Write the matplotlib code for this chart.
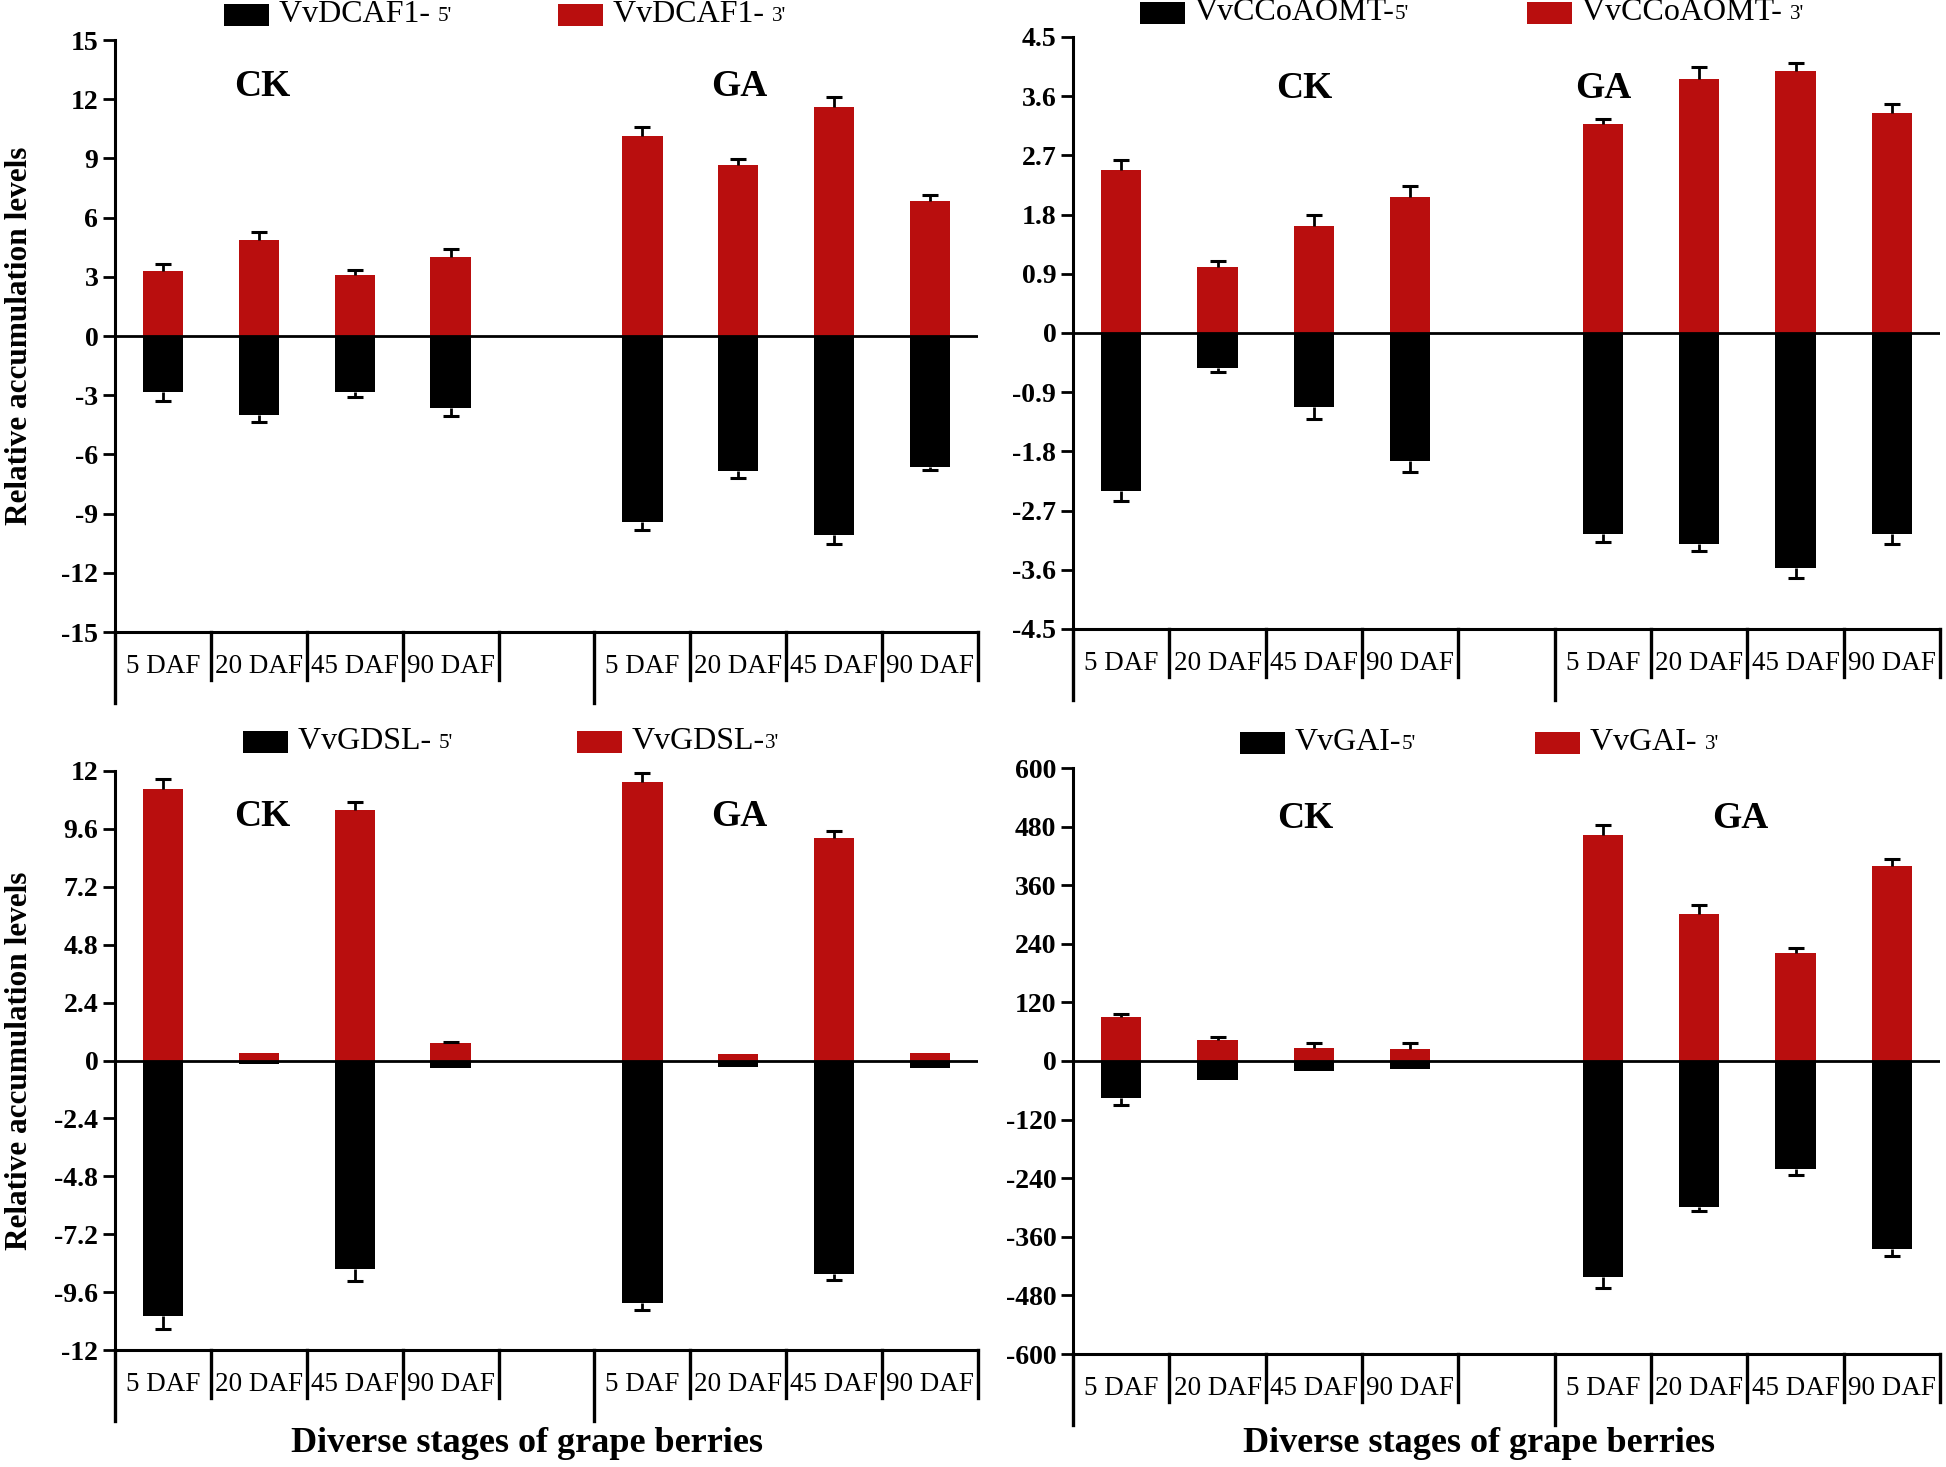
import numpy as np
import matplotlib
matplotlib.use('Agg')
import matplotlib.pyplot as plt
from matplotlib.patches import Rectangle
from matplotlib.transforms import blended_transform_factory

plt.rcParams['font.family'] = ['Liberation Serif', 'DejaVu Serif']

W, H = 1946, 1467
RED = '#b90e0e'

stages = ['5 DAF', '20 DAF', '45 DAF', '90 DAF']
groups = ['CK', 'GA']

# values: 4 CK stages then 4 GA stages
dcaf1_3 = [3.30, 4.86, 3.09, 4.02, 10.16, 8.65, 11.63, 6.84]
dcaf1_3_err = [0.35, 0.42, 0.24, 0.40, 0.42, 0.30, 0.46, 0.30]
dcaf1_5 = [-2.84, -3.98, -2.86, -3.67, -9.42, -6.86, -10.07, -6.65]
dcaf1_5_err = [0.44, 0.37, 0.23, 0.38, 0.39, 0.35, 0.46, 0.16]

ccoaomt_3 = [2.48, 1.00, 1.63, 2.07, 3.17, 3.86, 3.99, 3.35]
ccoaomt_3_err = [0.15, 0.10, 0.16, 0.16, 0.09, 0.19, 0.11, 0.13]
ccoaomt_5 = [-2.40, -0.53, -1.13, -1.94, -3.06, -3.21, -3.57, -3.06]
ccoaomt_5_err = [0.15, 0.07, 0.18, 0.17, 0.11, 0.11, 0.15, 0.15]

gdsl_3 = [11.26, 0.30, 10.37, 0.73, 11.54, 0.26, 9.21, 0.33]
gdsl_3_err = [0.41, 0, 0.36, 0.04, 0.39, 0, 0.32, 0]
gdsl_5 = [-10.59, -0.14, -8.66, -0.31, -10.04, -0.28, -8.84, -0.30]
gdsl_5_err = [0.53, 0, 0.49, 0, 0.29, 0, 0.27, 0]

gai_3 = [90, 42, 27, 24, 463, 302, 221, 399]
gai_3_err = [7, 8, 10, 12, 21, 18, 10, 14]
gai_5 = [-76, -38, -20, -17, -442, -298, -222, -385]
gai_5_err = [14, 0, 0, 0, 23, 10, 11, 15]

panels = [
    dict(box=(115, 978, 40, 632), lim=15, step=3,
         v3=dcaf1_3, e3=dcaf1_3_err, v5=dcaf1_5, e5=dcaf1_5_err,
         leg=('VvDCAF1- ', "5'", 224, 'VvDCAF1- ', "3'", 558, 15),
         ck=(262, 86), ga=(739, 86), ylab=True, xlab=None),
    dict(box=(1073, 1940, 37, 629), lim=4.5, step=0.9,
         v3=ccoaomt_3, e3=ccoaomt_3_err, v5=ccoaomt_5, e5=ccoaomt_5_err,
         leg=('VvCCoAOMT-', "5'", 1140, 'VvCCoAOMT- ', "3'", 1527, 13),
         ck=(1304, 89), ga=(1603, 89), ylab=False, xlab=None),
    dict(box=(115, 978, 771, 1350), lim=12, step=2.4,
         v3=gdsl_3, e3=gdsl_3_err, v5=gdsl_5, e5=gdsl_5_err,
         leg=('VvGDSL- ', "5'", 243, 'VvGDSL-', "3'", 577, 742),
         ck=(262, 817), ga=(739, 817), ylab=True, xlab=(527, 1444)),
    dict(box=(1073, 1940, 768, 1354), lim=600, step=120,
         v3=gai_3, e3=gai_3_err, v5=gai_5, e5=gai_5_err,
         leg=('VvGAI-', "5'", 1240, 'VvGAI- ', "3'", 1535, 743),
         ck=(1305, 819), ga=(1740, 819), ylab=False, xlab=(1479, 1444)),
]

fig = plt.figure(figsize=(W / 100, H / 100), dpi=100)
x = np.array([0, 1, 2, 3, 5, 6, 7, 8])


def fx(px):
    return px / W


def fy(py):
    return 1 - py / H


def draw_err(ax, vals, errs, sign):
    vals = np.array(vals, float)
    errs = np.array(errs, float)
    m = errs > 0
    tips = vals[m] + sign * errs[m]
    ax.vlines(x[m], vals[m], tips, color='black', lw=2, zorder=3)
    ax.plot(x[m], tips, ls='none', marker='_', markersize=11, mew=2.2,
            color='black', zorder=3)


for p in panels:
    l, r, t, b = p['box']
    ax = fig.add_axes([fx(l), fy(b), fx(r - l), (b - t) / H])
    ax.bar(x, p['v3'], width=0.42, color=RED, zorder=2)
    ax.bar(x, p['v5'], width=0.42, color='black', zorder=2)
    draw_err(ax, p['v3'], p['e3'], 1)
    draw_err(ax, p['v5'], p['e5'], -1)
    ax.axhline(0, color='black', lw=2, zorder=4)

    lim, step = p['lim'], p['step']
    ax.set_ylim(-lim, lim)
    ax.set_xlim(-0.5, 8.5)
    ticks = np.round(np.arange(-lim, lim + step / 2, step), 2)
    ax.set_yticks(ticks)
    ax.set_yticklabels(['%g' % (0 if abs(v) < 1e-9 else v) for v in ticks],
                       fontsize=20, fontweight='bold')
    ax.tick_params(axis='y', direction='out', length=9, width=2, pad=3)
    ax.set_xticks(x)
    ax.set_xticklabels(stages + stages, fontsize=19.5)
    ax.tick_params(axis='x', length=0, pad=16)
    for s in ['top', 'right']:
        ax.spines[s].set_visible(False)
    for s in ['left', 'bottom']:
        ax.spines[s].set_linewidth(2.2)

    # boxes under the axis
    hpx = b - t
    tr = blended_transform_factory(ax.transData, ax.transAxes)
    for xs in np.arange(-0.5, 9, 1):
        depth = 71 if xs in (-0.5, 4.5) else 48
        ax.plot([xs, xs], [0, -depth / hpx], transform=tr, color='black',
                lw=2.4, clip_on=False)

    fig.text(fx(p['ck'][0]), fy(p['ck'][1]), groups[0], fontsize=27,
             fontweight='bold', ha='center', va='center')
    fig.text(fx(p['ga'][0]), fy(p['ga'][1]), groups[1], fontsize=27,
             fontweight='bold', ha='center', va='center')

    if p['ylab']:
        ax.set_ylabel('Relative accumulation levels', fontsize=22.5,
                      fontweight='bold')
        ax.yaxis.set_label_coords(-0.094, 0.5)
    if p['xlab']:
        fig.text(fx(p['xlab'][0]), fy(p['xlab'][1]),
                 'Diverse stages of grape berries', fontsize=26,
                 fontweight='bold', ha='center', va='center')

    # legend
    n5, s5, x5, n3, s3, x3, ly = p['leg']
    for name, sm, xp, col in [(n5, s5, x5, 'black'), (n3, s3, x3, RED)]:
        fig.add_artist(Rectangle((fx(xp), fy(ly + 11)), fx(45), 22 / H,
                                 transform=fig.transFigure, facecolor=col,
                                 edgecolor='none'))
        tt = fig.text(fx(xp + 55), fy(ly), name, fontsize=23, va='center')
        ax.annotate(sm, xy=(1, 0.12), xycoords=tt, fontsize=15,
                    va='bottom', ha='left', annotation_clip=False)

fig.savefig('out.png', dpi=100)
